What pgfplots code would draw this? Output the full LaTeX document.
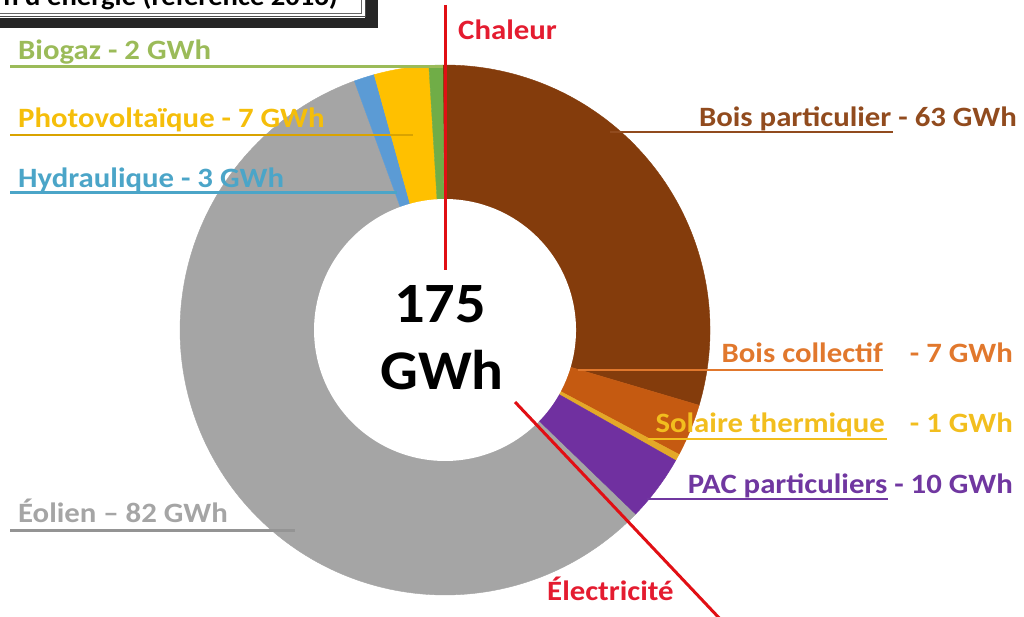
\documentclass[border=0pt]{standalone}
\usepackage{pgfplots}
\pgfplotsset{compat=1.18}
\usepackage{fontspec}
\setmainfont{Carlito}
\newfontfamily\labfont{Carlito}[FakeStretch=1.1]
\newfontfamily\cenfont{Carlito}[FakeStretch=1.06]
\definecolor{cBP}{RGB}{132,60,12}
\definecolor{cBC}{RGB}{197,90,17}
\definecolor{cST}{RGB}{228,168,40}
\definecolor{cPAC}{RGB}{112,48,160}
\definecolor{cEO}{RGB}{165,165,165}
\definecolor{cHY}{RGB}{91,155,213}
\definecolor{cPV}{RGB}{255,192,0}
\definecolor{cBG}{RGB}{112,173,71}
\definecolor{tBP}{RGB}{145,75,30}
\definecolor{tBC}{RGB}{225,120,45}
\definecolor{tST}{RGB}{242,190,30}
\definecolor{tPAC}{RGB}{112,55,160}
\definecolor{tEO}{RGB}{165,165,165}
\definecolor{tHY}{RGB}{75,165,200}
\definecolor{tPV}{RGB}{245,190,10}
\definecolor{tBG}{RGB}{155,187,89}
\definecolor{tRed}{RGB}{228,28,48}
\definecolor{lRed}{RGB}{225,15,20}
\newcommand{\lab}{\labfont\fontsize{28}{32}\selectfont\bfseries}
\begin{document}
\begin{tikzpicture}
\useasboundingbox (0,0) rectangle (1024pt,616pt);
\clip (0,0) rectangle (1024pt,616pt);
\begin{axis}[at={(0,0)},anchor=south west,
  width=1024pt,height=616pt,scale only axis,
  xmin=-445,xmax=579,ymin=-286,ymax=330,
  hide axis,clip=false]
% ---- donut sectors (angles in degrees)
\addplot[fill=cEO,draw=cEO,line width=0.4pt,domain=-250:-44,samples=150] ({265*cos(x)},{265*sin(x)}) -- (axis cs:0,0) -- cycle;
\addplot[fill=cBP,draw=cBP,line width=0.4pt,domain=-16.5:90.5,samples=90] ({265*cos(x)},{265*sin(x)}) -- (axis cs:0,0) -- cycle;
\addplot[fill=cBC,draw=cBC,line width=0.4pt,domain=-28:-16.5,samples=20] ({265*cos(x)},{265*sin(x)}) -- (axis cs:0,0) -- cycle;
\addplot[fill=cST,draw=cST,line width=0.4pt,domain=-29.5:-28,samples=5] ({265*cos(x)},{265*sin(x)}) -- (axis cs:0,0) -- cycle;
\addplot[fill=cPAC,draw=cPAC,line width=0.4pt,domain=-44:-29.5,samples=20] ({265*cos(x)},{265*sin(x)}) -- (axis cs:0,0) -- cycle;
\addplot[fill=cHY,draw=cHY,line width=0.4pt,domain=105.5:110,samples=8] ({265*cos(x)},{265*sin(x)}) -- (axis cs:0,0) -- cycle;
\addplot[fill=cPV,draw=cPV,line width=0.4pt,domain=93.5:105.5,samples=15] ({265*cos(x)},{265*sin(x)}) -- (axis cs:0,0) -- cycle;
\addplot[fill=cBG,draw=cBG,line width=0.4pt,domain=90.5:93.5,samples=6] ({265*cos(x)},{265*sin(x)}) -- (axis cs:0,0) -- cycle;
% hole
\addplot[fill=white,draw=none,domain=0:360,samples=160] ({131*cos(x)},{131*sin(x)}) -- cycle;
% ---- leader lines
\addplot[line width=3pt,color=tBG] coordinates {(-435,263) (-2,263)};
\addplot[line width=2.5pt,color=cPV!85!black] coordinates {(-435,195) (-32,195)};
\addplot[line width=3pt,color=tHY] coordinates {(-435,137) (-48,137)};
\addplot[line width=3pt,color=cEO!90!black] coordinates {(-435,-200) (-150,-200)};
\addplot[line width=2.5pt,color=tBP] coordinates {(165,198) (448,198)};
\addplot[line width=2.5pt,color=tBC] coordinates {(133,-40) (438,-40)};
\addplot[line width=2.5pt,color=tST] coordinates {(203,-109) (442,-109)};
\addplot[line width=2.5pt,color=tPAC] coordinates {(202,-169) (443,-169)};
% ---- red separators
\addplot[line width=3pt,color=lRed] coordinates {(0,325) (0,60)};
\addplot[line width=3pt,color=lRed] coordinates {(70,-72) (276,-290)};
% ---- labels
\node[anchor=base west,text=tBG,inner sep=0] at (axis cs:-427,270) {\lab Biogaz - 2 GWh};
\node[anchor=base west,text=tPV,inner sep=0] at (axis cs:-427,202) {\lab Photovoltaïque - 7 GWh};
\node[anchor=base west,text=tHY,inner sep=0] at (axis cs:-427,142) {\lab Hydraulique - 3 GWh};
\node[anchor=base west,text=tEO,inner sep=0] at (axis cs:-427,-192) {\lab Éolien – 82 GWh};
\node[anchor=base east,text=tBP,inner sep=0] at (axis cs:572,203) {\lab Bois particulier - 63 GWh};
\node[anchor=base east,text=tBC,inner sep=0] at (axis cs:438,-33) {\lab Bois collectif};
\node[anchor=base east,text=tBC,inner sep=0] at (axis cs:568,-33) {\lab - 7 GWh};
\node[anchor=base east,text=tST,inner sep=0] at (axis cs:440,-102) {\lab Solaire thermique};
\node[anchor=base east,text=tST,inner sep=0] at (axis cs:568,-102) {\lab - 1 GWh};
\node[anchor=base east,text=tPAC,inner sep=0] at (axis cs:568,-163) {\lab PAC particuliers - 10 GWh};
\node[anchor=base west,text=tRed,inner sep=0] at (axis cs:13,290) {\lab Chaleur};
\node[anchor=base west,text=tRed,inner sep=0] at (axis cs:102,-270) {\lab Électricité};
% ---- centre total
\node[anchor=base,inner sep=0] at (axis cs:-5,7) {\cenfont\fontsize{57}{60}\selectfont\bfseries 175};
\node[anchor=base,inner sep=0] at (axis cs:-3,-60) {\cenfont\fontsize{56}{60}\selectfont\bfseries GWh};
% ---- title box (cut off at top)
\fill[black!85] (axis cs:-460,302) rectangle (axis cs:-67,345);
\fill[white] (axis cs:-460,312) rectangle (axis cs:-80,345);
\draw[black!70,line width=1pt] (axis cs:-460,313) rectangle (axis cs:-80,345);
\draw[black!60,line width=0.6pt] (axis cs:-460,317) rectangle (axis cs:-84,345);
\node[anchor=base east,inner sep=0] at (axis cs:-107,324) {\labfont\fontsize{26}{30}\selectfont\bfseries n d'énergie (référence 2016)};
\end{axis}
\end{tikzpicture}
\end{document}
